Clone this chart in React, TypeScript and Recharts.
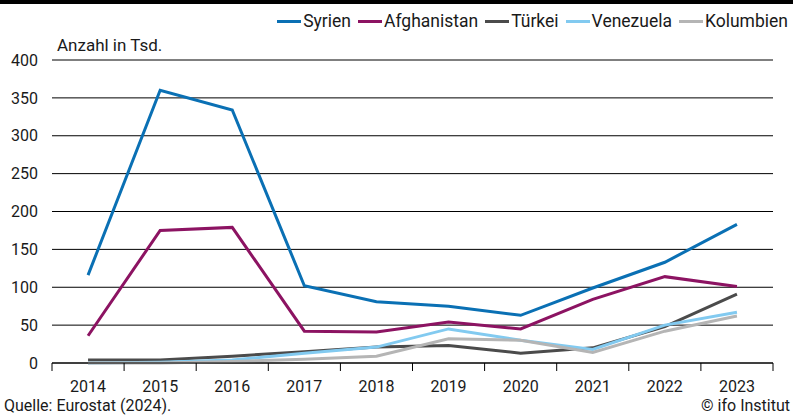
import { LineChart, Line, XAxis, YAxis, CartesianGrid } from "recharts"

const years = ["2014", "2015", "2016", "2017", "2018", "2019", "2020", "2021", "2022", "2023"]
const syrien = [116, 360, 334, 102, 81, 75, 63, 99, 133, 183]
const afghanistan = [36, 175, 179, 42, 41, 54, 45, 84, 114, 101]
const tuerkei = [4, 4, 9, 15, 21, 23, 13, 20, 48, 91]
const venezuela = [0, 1, 4, 13, 21, 45, 30, 18, 50, 67]
const kolumbien = [0, 0, 2, 5, 9, 32, 30, 14, 42, 62]
const yTicks = [0, 50, 100, 150, 200, 250, 300, 350, 400]

const series = [
  { key: "Syrien", values: syrien, color: "#0a70b4" },
  { key: "Afghanistan", values: afghanistan, color: "#8c1362" },
  { key: "Türkei", values: tuerkei, color: "#4b4b4b" },
  { key: "Venezuela", values: venezuela, color: "#82caf0" },
  { key: "Kolumbien", values: kolumbien, color: "#b5b5b5" },
]

const data = years.map((year, i) => {
  const row: any = { year }
  series.forEach(s => (row[s.key] = s.values[i]))
  return row
})

const FONT = "'Roboto', 'Liberation Sans', sans-serif"
const BAND = 72.1

const XTick = ({ x, y, payload, index }: any) => (
  <g>
    <line x1={x - BAND / 2} x2={x - BAND / 2} y1={y - 8} y2={y} stroke="#000" />
    {index === years.length - 1 && (
      <line x1={x + BAND / 2} x2={x + BAND / 2} y1={y - 8} y2={y} stroke="#000" />
    )}
    <text x={x} y={y + 21} textAnchor="middle" fontSize={16} fill="#1a1a1a" fontFamily={FONT}>
      {payload.value}
    </text>
  </g>
)

export default function App() {
  return (
    <div style={{ position: "absolute", left: 0, top: 0, width: 793, height: 417, background: "#fff", fontFamily: FONT }}>
      <div style={{ position: "absolute", left: 0, top: 0, width: 793, height: 4, background: "#000" }} />
      <div style={{ position: "absolute", right: 5, top: 11, display: "flex", gap: 7, fontSize: 17.5, color: "#1a1a1a" }}>
        {series.map(s => (
          <div key={s.key} style={{ display: "flex", alignItems: "center" }}>
            <span style={{ display: "inline-block", width: 24, height: 3, background: s.color, marginRight: 2 }} />
            {s.key}
          </div>
        ))}
      </div>
      <div style={{ position: "absolute", left: 57, top: 35, fontSize: 17, color: "#1a1a1a" }}>Anzahl in Tsd.</div>
      <LineChart width={793} height={417} data={data} margin={{ top: 60, right: 20, bottom: 14, left: 12 }}>
        <CartesianGrid vertical={false} stroke="#000" strokeWidth={1} />
        <XAxis
          dataKey="year"
          stroke="#000"
          tickLine={false}
          tick={<XTick />}
          interval={0}
          height={40}
          padding={{ left: BAND / 2, right: BAND / 2 }}
        />
        <YAxis
          width={40}
          domain={[0, 400]}
          ticks={yTicks}
          axisLine={false}
          tickLine={false}
          tickSize={12}
          tickMargin={2}
          tick={{ fontSize: 16, fill: "#1a1a1a", fontFamily: FONT }}
        />
        {series.map(s => (
          <Line
            key={s.key}
            dataKey={s.key}
            stroke={s.color}
            strokeWidth={3}
            dot={false}
            isAnimationActive={false}
            type="linear"
          />
        ))}
      </LineChart>
      <div style={{ position: "absolute", left: 4, top: 396, fontSize: 16, color: "#1a1a1a" }}>Quelle: Eurostat (2024).</div>
      <div style={{ position: "absolute", right: 3, top: 396, fontSize: 16, color: "#1a1a1a" }}>© ifo Institut</div>
    </div>
  )
}
